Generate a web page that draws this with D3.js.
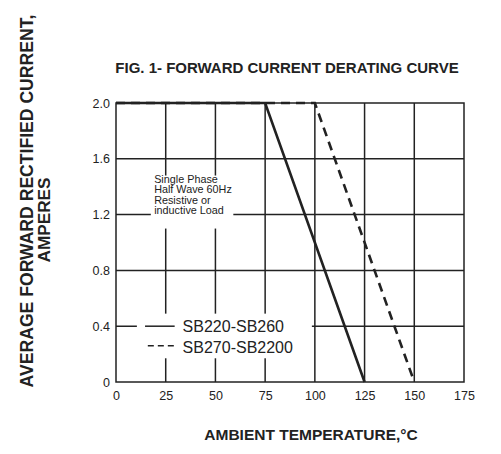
<!DOCTYPE html>
<html>
<head>
<meta charset="utf-8">
<script src="https://cdn.jsdelivr.net/npm/d3@7"></script>
<style>
  body { margin: 0; background: #fff; }
  svg { display: block; font-family: "Liberation Sans", Arial, sans-serif; }
</style>
</head>
<body>
<svg id="chart"></svg>
<script>
const tempTicks = [0, 25, 50, 75, 100, 125, 150, 175];
const currentTicks = [0, 0.4, 0.8, 1.2, 1.6, 2.0];
const currentLabels = ["0", "0.4", "0.8", "1.2", "1.6", "2.0"];

const sb220Temp = [0, 75, 125];
const sb220Current = [2.0, 2.0, 0];
const sb270Temp = [0, 100, 150];
const sb270Current = [2.0, 2.0, 0];

const seriesNames = ["SB220-SB260", "SB270-SB2200"];
const noteLines = ["Single Phase", "Half Wave 60Hz", "Resistive or", "inductive Load"];

const width = 501, height = 454;
const margin = {top: 103, right: 37, bottom: 72, left: 116};

const svg = d3.select("#chart")
    .attr("width", width)
    .attr("height", height);

const x = d3.scaleLinear()
    .domain([0, 175])
    .range([margin.left, width - margin.right]);

const y = d3.scaleLinear()
    .domain([0, 2.0])
    .range([height - margin.bottom, margin.top]);

// grid
const grid = svg.append("g")
    .attr("stroke", "#222")
    .attr("stroke-width", 1.5);

grid.selectAll(".vgrid")
  .data(tempTicks.slice(1, -1))
  .join("line")
    .attr("x1", d => x(d)).attr("x2", d => x(d))
    .attr("y1", y(0)).attr("y2", y(2));

grid.selectAll(".hgrid")
  .data(currentTicks.slice(1, -1))
  .join("line")
    .attr("x1", x(0)).attr("x2", x(175))
    .attr("y1", d => y(d)).attr("y2", d => y(d));

// white boxes behind the note and the legend
svg.append("rect")
    .attr("x", x(17.5)).attr("y", y(1.48))
    .attr("width", x(59) - x(17.5)).attr("height", y(1.1) - y(1.48))
    .attr("fill", "#fff");

svg.append("rect")
    .attr("x", x(10.5)).attr("y", y(0.49))
    .attr("width", x(98.5) - x(10.5)).attr("height", y(0.17) - y(0.49))
    .attr("fill", "#fff");

// frame
svg.append("rect")
    .attr("x", x(0)).attr("y", y(2))
    .attr("width", x(175) - x(0)).attr("height", y(0) - y(2))
    .attr("fill", "none")
    .attr("stroke", "#222")
    .attr("stroke-width", 1.5);

// curves
const line = d3.line()
    .x(d => x(d[0]))
    .y(d => y(d[1]));

svg.append("path")
    .datum(d3.zip(sb270Temp, sb270Current))
    .attr("d", line)
    .attr("fill", "none")
    .attr("stroke", "#222")
    .attr("stroke-width", 2.6)
    .attr("stroke-dasharray", "9,6");

svg.append("path")
    .datum(d3.zip(sb220Temp, sb220Current))
    .attr("d", line)
    .attr("fill", "none")
    .attr("stroke", "#222")
    .attr("stroke-width", 2.6);

// axes
const xAxis = g => g
    .attr("transform", `translate(0,${y(0)})`)
    .call(d3.axisBottom(x).tickValues(tempTicks).tickSize(0).tickPadding(9))
    .call(g => g.select(".domain").remove())
    .call(g => g.selectAll("text")
        .attr("font-family", "Liberation Sans, Arial, sans-serif")
        .attr("font-size", 12.5)
        .attr("fill", "#222"));

const yAxis = g => g
    .attr("transform", `translate(${x(0)},0)`)
    .call(d3.axisLeft(y).tickValues(currentTicks).tickSize(0).tickPadding(6)
        .tickFormat((d, i) => currentLabels[i]))
    .call(g => g.select(".domain").remove())
    .call(g => g.selectAll("text")
        .attr("font-family", "Liberation Sans, Arial, sans-serif")
        .attr("font-size", 12.5)
        .attr("fill", "#222"));

svg.append("g").call(xAxis);
svg.append("g").call(yAxis);

// note
svg.append("text")
    .attr("font-size", 10.8)
    .attr("fill", "#222")
  .selectAll("tspan")
  .data(noteLines)
  .join("tspan")
    .attr("x", x(19.2))
    .attr("y", (d, i) => y(1.43) + i * 10.6)
    .text(d => d);

// legend
const legend = svg.append("g");
legend.append("line")
    .attr("x1", x(14.6)).attr("x2", x(29.5))
    .attr("y1", y(0.4)).attr("y2", y(0.4))
    .attr("stroke", "#222").attr("stroke-width", 1.5);
legend.append("line")
    .attr("x1", x(16)).attr("x2", x(29.5))
    .attr("y1", y(0.26)).attr("y2", y(0.26))
    .attr("stroke", "#222").attr("stroke-width", 1.5)
    .attr("stroke-dasharray", "6,4");
legend.selectAll("text")
  .data(seriesNames)
  .join("text")
    .attr("x", x(33.5))
    .attr("y", (d, i) => y(0.4) + 5.5 + i * 21)
    .attr("font-size", 16)
    .attr("fill", "#222")
    .text(d => d);

// titles
svg.append("text")
    .attr("x", 287).attr("y", 73)
    .attr("text-anchor", "middle")
    .attr("font-size", 15)
    .attr("font-weight", "bold")
    .attr("fill", "#222")
    .text("FIG. 1- FORWARD CURRENT DERATING CURVE");

svg.append("text")
    .attr("x", 311).attr("y", 440)
    .attr("text-anchor", "middle")
    .attr("font-size", 15.5)
    .attr("font-weight", "bold")
    .attr("fill", "#222")
    .text("AMBIENT TEMPERATURE,°C");

svg.append("text")
    .attr("transform", "translate(33,201) rotate(-90)")
    .attr("text-anchor", "middle")
    .attr("font-size", 17.6)
    .attr("font-weight", "bold")
    .attr("fill", "#222")
    .text("AVERAGE FORWARD RECTIFIED CURRENT,");

svg.append("text")
    .attr("transform", "translate(50,220) rotate(-90)")
    .attr("text-anchor", "middle")
    .attr("font-size", 17.2)
    .attr("font-weight", "bold")
    .attr("fill", "#222")
    .text("AMPERES");
</script>
</body>
</html>
